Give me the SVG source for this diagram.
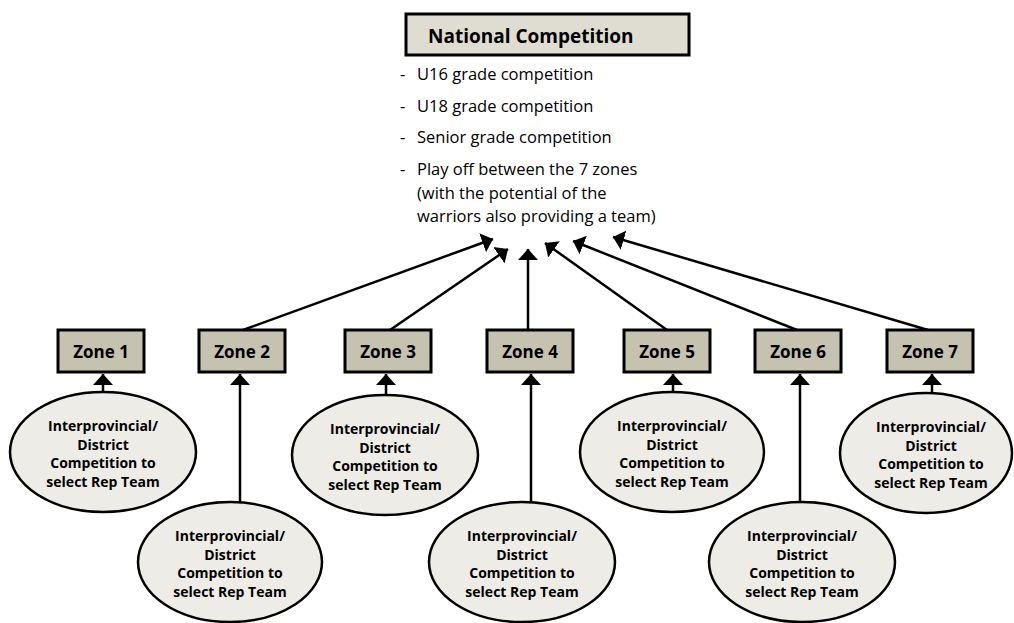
<svg xmlns="http://www.w3.org/2000/svg" width="1014" height="623" viewBox="0 0 1014 623">
  <defs>
    <marker id="head" markerUnits="userSpaceOnUse" markerWidth="14" markerHeight="22" viewBox="0 -11 14 22" refX="11" refY="0" orient="auto">
      <path d="M0,-10 L11,0 L0,10 Z" fill="#000"/>
    </marker>
    <style>
      .zone rect { fill: #c5c2b0; stroke: #000; stroke-width: 3; }
      .zone text { font-family: "Open Sans", "DejaVu Sans", sans-serif; font-weight: bold; font-size: 17px; fill: #000; text-anchor: middle; }
      .comp ellipse { fill: #edece7; stroke: #000; stroke-width: 2.5; }
      .comp text { font-family: "Open Sans", "DejaVu Sans", sans-serif; font-weight: bold; font-size: 14px; fill: #000; text-anchor: middle; }
      .title rect { fill: #dfddd2; stroke: #000; stroke-width: 3; }
      .title text { font-family: "Open Sans", "DejaVu Sans", sans-serif; font-weight: bold; font-size: 19px; fill: #000; }
      .notes text { font-family: "Open Sans", "DejaVu Sans", sans-serif; font-size: 16.5px; fill: #000; }
      .links line { stroke: #000; stroke-width: 2.5; marker-end: url(#head); }
    </style>
  </defs>

  <rect width="1014" height="623" fill="#fff"/>

  <!-- National level -->
  <g id="national" class="title">
    <rect x="406" y="14" width="283" height="41"/>
    <text x="428" y="43">National Competition</text>
  </g>
  <g id="national-notes" class="notes">
    <text x="400" y="80">-</text><text x="417" y="80">U16 grade competition</text>
    <text x="400" y="112">-</text><text x="417" y="112">U18 grade competition</text>
    <text x="400" y="143">-</text><text x="417" y="143">Senior grade competition</text>
    <text x="400" y="175">-</text><text x="417" y="175">Play off between the 7 zones</text>
    <text x="417" y="199">(with the potential of the</text>
    <text x="417" y="222">warriors also providing a team)</text>
  </g>

  <!-- Connectors -->
  <g id="connectors" class="links">
    <line x1="243" y1="330" x2="493" y2="239"/>
    <line x1="390" y1="330" x2="508" y2="249"/>
    <line x1="528" y1="330" x2="528" y2="249"/>
    <line x1="667" y1="330" x2="545" y2="243"/>
    <line x1="797" y1="330" x2="573" y2="241"/>
    <line x1="928" y1="330" x2="613" y2="237"/>

    <line x1="103" y1="392" x2="103" y2="374"/>
    <line x1="240" y1="502" x2="240" y2="374"/>
    <line x1="386" y1="395" x2="386" y2="374"/>
    <line x1="531" y1="502" x2="531" y2="374"/>
    <line x1="673" y1="392" x2="673" y2="374"/>
    <line x1="800" y1="502" x2="800" y2="374"/>
    <line x1="932" y1="393" x2="932" y2="374"/>
  </g>

  <!-- Zones -->
  <g id="zone1" class="zone"><rect x="58" y="330" width="86" height="42"/><text x="101" y="358">Zone 1</text></g>
  <g id="zone2" class="zone"><rect x="199" y="330" width="86" height="42"/><text x="242" y="358">Zone 2</text></g>
  <g id="zone3" class="zone"><rect x="345" y="330" width="86" height="42"/><text x="388" y="358">Zone 3</text></g>
  <g id="zone4" class="zone"><rect x="487" y="330" width="86" height="42"/><text x="530" y="358">Zone 4</text></g>
  <g id="zone5" class="zone"><rect x="624" y="330" width="86" height="42"/><text x="667" y="358">Zone 5</text></g>
  <g id="zone6" class="zone"><rect x="755" y="330" width="86" height="42"/><text x="798" y="358">Zone 6</text></g>
  <g id="zone7" class="zone"><rect x="887" y="330" width="86" height="42"/><text x="930" y="358">Zone 7</text></g>

  <!-- Interprovincial / district competitions -->
  <g id="comp1" class="comp">
    <ellipse cx="103" cy="452" rx="93" ry="60"/>
    <text x="103" y="431">Interprovincial/</text><text x="103" y="450">District</text>
    <text x="103" y="468">Competition to</text><text x="103" y="487">select Rep Team</text>
  </g>
  <g id="comp2" class="comp">
    <ellipse cx="230" cy="562" rx="92" ry="60"/>
    <text x="230" y="541">Interprovincial/</text><text x="230" y="560">District</text>
    <text x="230" y="578">Competition to</text><text x="230" y="597">select Rep Team</text>
  </g>
  <g id="comp3" class="comp">
    <ellipse cx="385" cy="455" rx="93" ry="60"/>
    <text x="385" y="434">Interprovincial/</text><text x="385" y="453">District</text>
    <text x="385" y="471">Competition to</text><text x="385" y="490">select Rep Team</text>
  </g>
  <g id="comp4" class="comp">
    <ellipse cx="522" cy="562" rx="93" ry="60"/>
    <text x="522" y="541">Interprovincial/</text><text x="522" y="560">District</text>
    <text x="522" y="578">Competition to</text><text x="522" y="597">select Rep Team</text>
  </g>
  <g id="comp5" class="comp">
    <ellipse cx="672" cy="452" rx="92" ry="60"/>
    <text x="672" y="431">Interprovincial/</text><text x="672" y="450">District</text>
    <text x="672" y="468">Competition to</text><text x="672" y="487">select Rep Team</text>
  </g>
  <g id="comp6" class="comp">
    <ellipse cx="802" cy="562" rx="93" ry="60"/>
    <text x="802" y="541">Interprovincial/</text><text x="802" y="560">District</text>
    <text x="802" y="578">Competition to</text><text x="802" y="597">select Rep Team</text>
  </g>
  <g id="comp7" class="comp">
    <ellipse cx="926" cy="453" rx="86" ry="60"/>
    <text x="931" y="432">Interprovincial/</text><text x="931" y="451">District</text>
    <text x="931" y="469">Competition to</text><text x="931" y="488">select Rep Team</text>
  </g>
</svg>
